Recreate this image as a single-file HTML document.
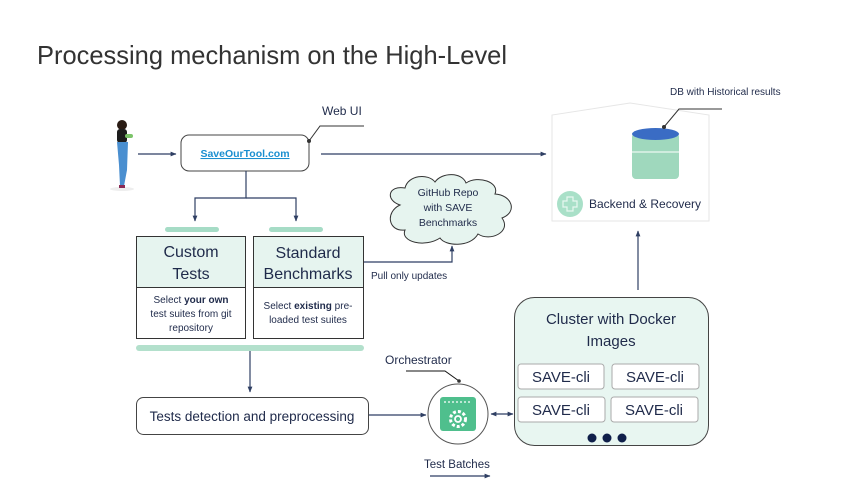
<!DOCTYPE html>
<html><head><meta charset="utf-8"><style>
html,body{margin:0;padding:0;background:#fff;}
svg{display:block;font-family:"Liberation Sans",sans-serif;}
</style></head><body>
<svg width="865" height="487" viewBox="0 0 865 487" xmlns="http://www.w3.org/2000/svg">
<defs>
<marker id="a" viewBox="0 0 10 10" refX="9" refY="5" markerWidth="5" markerHeight="5" orient="auto-start-reverse"><path d="M0,1 L10,5 L0,9 z" fill="#2f3f63"/></marker>
</defs>
<text x="37" y="64" font-size="26" fill="#333" textLength="470" lengthAdjust="spacingAndGlyphs">Processing mechanism on the High-Level</text>

<!-- person -->
<ellipse cx="122" cy="189" rx="12" ry="2" fill="#eee"/>
<circle cx="122" cy="125" r="5" fill="#2a1c14"/>
<rect x="117" y="129" width="10" height="14" rx="3" fill="#1d1d1d"/>
<rect x="125" y="134" width="8" height="4" rx="2" fill="#7cc46a"/>
<path d="M117,142 L128,142 L127,170 L124,186 L120,186 L119,165 Z" fill="#4a8fd0"/>
<rect x="119" y="185" width="6" height="3" fill="#8a2a55"/>

<!-- web ui -->
<rect x="181" y="135" width="128" height="36" rx="8" fill="#fff" stroke="#444" stroke-width="1"/>
<text x="245" y="157" font-size="10.5" font-weight="bold" fill="#1a8fd0" text-anchor="middle" text-decoration="underline">SaveOurTool.com</text>
<text x="322" y="115" font-size="12" fill="#1f2a4a">Web UI</text>
<polyline points="309,141 320,126 364,126" fill="none" stroke="#333" stroke-width="1"/>
<circle cx="309" cy="141" r="2" fill="#333"/>
<line x1="138" y1="154" x2="176" y2="154" stroke="#2f3f63" stroke-width="1.2" marker-end="url(#a)"/>
<line x1="321" y1="154" x2="546" y2="154" stroke="#2f3f63" stroke-width="1.2" marker-end="url(#a)"/>
<polyline points="246,171 246,198 195,198 195,221" fill="none" stroke="#2f3f63" stroke-width="1.2" marker-end="url(#a)"/>
<polyline points="246,198 296,198 296,221" fill="none" stroke="#2f3f63" stroke-width="1.2" marker-end="url(#a)"/>

<rect x="165" y="227" width="54" height="5" rx="2.5" fill="#a6dcc6"/>
<rect x="269" y="227" width="54" height="5" rx="2.5" fill="#a6dcc6"/>

<rect x="136.5" y="236.5" width="109" height="51" fill="#e6f4ef" stroke="#333"/>
<rect x="136.5" y="287.5" width="109" height="51" fill="#fff" stroke="#333"/>
<text x="191" y="257" font-size="16" fill="#1f2a4a" text-anchor="middle">Custom</text>
<text x="191" y="279" font-size="16" fill="#1f2a4a" text-anchor="middle">Tests</text>
<text x="191" y="303" font-size="10" fill="#1f2a4a" text-anchor="middle">Select <tspan font-weight="bold">your own</tspan></text>
<text x="191" y="317" font-size="10" fill="#1f2a4a" text-anchor="middle">test suites from git</text>
<text x="191" y="331" font-size="10" fill="#1f2a4a" text-anchor="middle">repository</text>

<rect x="253.5" y="236.5" width="110" height="51" fill="#e6f4ef" stroke="#333"/>
<rect x="253.5" y="287.5" width="110" height="51" fill="#fff" stroke="#333"/>
<text x="308" y="258" font-size="16" fill="#1f2a4a" text-anchor="middle">Standard</text>
<text x="308" y="279" font-size="16" fill="#1f2a4a" text-anchor="middle">Benchmarks</text>
<text x="308" y="309" font-size="10" fill="#1f2a4a" text-anchor="middle">Select <tspan font-weight="bold">existing</tspan> pre-</text>
<text x="308" y="323" font-size="10" fill="#1f2a4a" text-anchor="middle">loaded test suites</text>

<rect x="136" y="345" width="228" height="6" rx="3" fill="#b3e0cc"/>

<polyline points="364,262 452,262 452,246" fill="none" stroke="#2f3f63" stroke-width="1.2" marker-end="url(#a)"/>
<text x="371" y="279" font-size="10" fill="#1f2a4a">Pull only updates</text>

<!-- cloud -->
<path d="M400,205 C385,200 388,185 405,188 C408,175 428,173 435,182 C442,172 462,172 466,183 C478,175 500,182 495,194 C512,195 518,212 502,218 C512,232 490,242 478,234 C470,248 445,246 440,238 C425,248 400,242 405,230 C388,232 385,212 400,205 Z" fill="#e6f4ef" stroke="#333" stroke-width="1"/>
<text x="448" y="196" font-size="10.5" fill="#1f2a4a" text-anchor="middle">GitHub Repo</text>
<text x="448" y="211" font-size="10.5" fill="#1f2a4a" text-anchor="middle">with SAVE</text>
<text x="448" y="226" font-size="10.5" fill="#1f2a4a" text-anchor="middle">Benchmarks</text>

<!-- backend -->
<path d="M552,221 L552,115 L630,103 L709,115 L709,221 Z" fill="#fff" stroke="#e6e6e6" stroke-width="1"/>
<rect x="632" y="133" width="47" height="46" rx="4" fill="#9fd8bd"/>
<line x1="632" y1="152" x2="679" y2="152" stroke="#fff" stroke-width="1"/>
<ellipse cx="655.5" cy="134" rx="23.5" ry="6" fill="#3a6cc4"/>
<polyline points="664,127 679,109 722,109" fill="none" stroke="#333" stroke-width="1"/>
<circle cx="664" cy="127" r="2" fill="#333"/>
<text x="670" y="95" font-size="10" fill="#1f2a4a">DB with Historical results</text>
<circle cx="570" cy="204" r="13" fill="#a9e0c8"/>
<path d="M567,197 h6 v4 h4 v6 h-4 v4 h-6 v-4 h-4 v-6 h4 z" fill="none" stroke="#e8f7f0" stroke-width="1.2"/>
<text x="589" y="208" font-size="12" fill="#1f2a4a">Backend &amp; Recovery</text>

<line x1="638" y1="290" x2="638" y2="231" stroke="#2f3f63" stroke-width="1.2" marker-end="url(#a)"/>

<!-- cluster -->
<rect x="514.5" y="297.5" width="194" height="148" rx="20" fill="#e8f6f1" stroke="#444"/>
<text x="611" y="324" font-size="15" fill="#1f2a4a" text-anchor="middle">Cluster with Docker</text>
<text x="611" y="346" font-size="15" fill="#1f2a4a" text-anchor="middle">Images</text>
<rect x="518" y="364" width="86" height="25" rx="3" fill="#fff" stroke="#aaa"/>
<rect x="612" y="364" width="87" height="25" rx="3" fill="#fff" stroke="#aaa"/>
<rect x="518" y="397" width="87" height="25" rx="3" fill="#fff" stroke="#aaa"/>
<rect x="611" y="397" width="87" height="25" rx="3" fill="#fff" stroke="#aaa"/>
<text x="561" y="382" font-size="15" fill="#1f2a4a" text-anchor="middle">SAVE-cli</text>
<text x="655" y="382" font-size="15" fill="#1f2a4a" text-anchor="middle">SAVE-cli</text>
<text x="561" y="415" font-size="15" fill="#1f2a4a" text-anchor="middle">SAVE-cli</text>
<text x="654" y="415" font-size="15" fill="#1f2a4a" text-anchor="middle">SAVE-cli</text>
<circle cx="592" cy="438" r="4.5" fill="#0f1f4a"/>
<circle cx="607" cy="438" r="4.5" fill="#0f1f4a"/>
<circle cx="622" cy="438" r="4.5" fill="#0f1f4a"/>

<!-- tests detection -->
<line x1="250" y1="351" x2="250" y2="392" stroke="#2f3f63" stroke-width="1.2" marker-end="url(#a)"/>
<rect x="136.5" y="397.5" width="232" height="37" rx="7" fill="#fff" stroke="#444"/>
<text x="252" y="421" font-size="13.5" fill="#1f2a4a" text-anchor="middle">Tests detection and preprocessing</text>
<line x1="369" y1="415" x2="426" y2="415" stroke="#2f3f63" stroke-width="1.2" marker-end="url(#a)"/>

<!-- orchestrator -->
<text x="385" y="364" font-size="12" fill="#1f2a4a">Orchestrator</text>
<polyline points="406,371 445,371 459,381" fill="none" stroke="#111" stroke-width="1"/>
<circle cx="459" cy="381" r="1.8" fill="#333"/>
<circle cx="458" cy="414" r="30" fill="#fff" stroke="#555"/>
<rect x="440" y="397" width="36" height="34" rx="3" fill="#4fbf8d"/>
<line x1="444" y1="402" x2="472" y2="402" stroke="#fff" stroke-width="1.2" stroke-dasharray="2,2"/>
<circle cx="458" cy="419" r="7.5" fill="none" stroke="#fff" stroke-width="3" stroke-dasharray="3,2"/>
<circle cx="458" cy="419" r="3" fill="none" stroke="#fff" stroke-width="1.8"/>
<line x1="491" y1="414" x2="513" y2="414" stroke="#2f3f63" stroke-width="1.2" marker-start="url(#a)" marker-end="url(#a)"/>
<text x="424" y="468" font-size="11.5" fill="#1f2a4a">Test Batches</text>
<line x1="430" y1="476" x2="490" y2="476" stroke="#2f3f63" stroke-width="1.2" marker-end="url(#a)"/>
</svg>
</body></html>
